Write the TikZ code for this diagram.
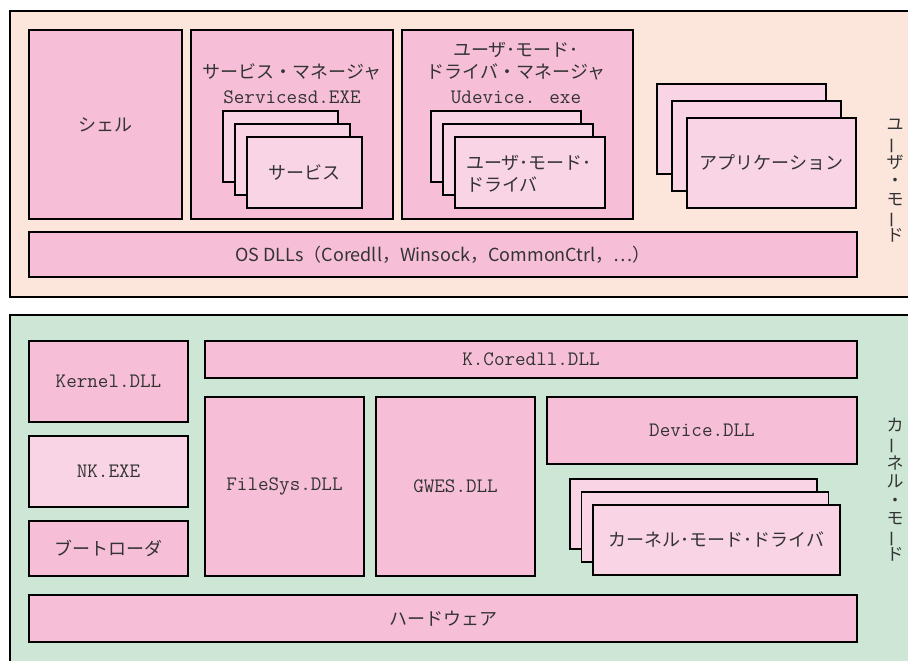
\documentclass[tikz,border=0pt]{standalone}
\usepackage{fontspec}
\usepackage{graphicx}
\setmainfont{Noto Sans CJK JP}
\usepackage{xcolor}
\definecolor{boxpink}{RGB}{246,191,215}
\definecolor{lightpink}{RGB}{249,212,229}
\definecolor{userbg}{RGB}{252,229,218}
\definecolor{kernelbg}{RGB}{205,230,214}
\definecolor{textgray}{RGB}{51,51,51}
\newcommand{\jp}{\fontsize{18}{22}\selectfont}
\newcommand{\dll}{\ttfamily\fontsize{20.5}{22}\selectfont}
\newcommand{\vbar}{\rotatebox[origin=c]{90}{ー}}

\begin{document}
\begin{tikzpicture}[x=1pt,y=-1pt,
  blk/.style={draw, line width=1.2pt, fill=boxpink, inner sep=0pt, text=textgray, font=\jp},
  sub/.style={blk, fill=lightpink},
  lbl/.style={inner sep=0pt, text=textgray, font=\jp},
  vlbl/.style={inner sep=0pt, text=textgray, align=center, font=\fontsize{17}{18.3}\selectfont}]
\clip (0,0) rectangle (908,661);

% user mode
\draw[line width=1.2pt, fill=userbg] (10,11) rectangle (930,297);
\node[blk, minimum width=153, minimum height=189] (shell) at (105.5,124.5) {シェル};
\node[blk, minimum width=202, minimum height=189] (svcmgr) at (292,124.5) {};
\node[lbl] (svcmgrname) at (292,72) {サービス・マネージャ};
\node[lbl, font=\dll] (svcmgrexe) at (292,97) {Servicesd.EXE};
\foreach \i in {0,1}
  \node[sub, minimum width=115, minimum height=71] (svc\i) at (280.5+12*\i,146.5+13*\i) {};
\node[sub, minimum width=115, minimum height=71] (svc2) at (304.5,172.5) {サービス};

\node[blk, minimum width=231, minimum height=189] (udmgr) at (517.5,124.5) {};
\node[lbl] (udmgrname1) at (516,50) {ユーザ･モード･};
\node[lbl] (udmgrname2) at (516,72) {ドライバ・マネージャ};
\node[lbl, font=\dll] (udmgrexe) at (516,97) {Udevice. exe};
\foreach \i in {0,1}
  \node[sub, minimum width=150, minimum height=71] (ud\i) at (506+12*\i,146.5+13*\i) {};
\node[sub, minimum width=150, minimum height=71] (ud2) at (530,172.5) {};
\node[lbl, anchor=west, align=left] (udtext) at (466,173.5) {ユーザ･モード･\\ドライバ};

\foreach \i in {0,1}
  \node[sub, minimum width=169, minimum height=90] (app\i) at (741.5+15*\i,129+17*\i) {};
\node[sub, minimum width=169, minimum height=90] (app2) at (771.5,163) {アプリケーション};

\node[blk, minimum width=828, minimum height=45] (osdll) at (443,254.5) {OS DLLs（Coredll，Winsock，CommonCtrl，…）};
\node[vlbl] (usrlbl) at (895,181) {ユ\\\vbar\\ザ\\・\\モ\\\vbar\\ド};

% kernel mode
\draw[line width=1.2pt, fill=kernelbg] (10,315) rectangle (930,690);
\node[blk, font=\dll, minimum width=159, minimum height=81] (kernel) at (108.5,381.5) {Kernel.DLL};
\node[sub, font=\dll, minimum width=159, minimum height=71] (nk) at (108.5,471.5) {NK.EXE};
\node[blk, minimum width=159, minimum height=55] (boot) at (108.5,548.5) {ブートローダ};
\node[blk, font=\dll, minimum width=652, minimum height=37] (kcoredll) at (531,359.5) {K.Coredll.DLL};
\node[blk, font=\dll, minimum width=159, minimum height=179] (filesys) at (284.5,486.5) {FileSys.DLL};
\node[blk, font=\dll, minimum width=159, minimum height=179] (gwes) at (455.5,486.5) {GWES.DLL};
\node[blk, font=\dll, minimum width=310, minimum height=67] (device) at (702,430.5) {Device.DLL};
\foreach \i in {0,1}
  \node[sub, minimum width=247, minimum height=70] (kmd\i) at (693.5+11.5*\i,514+13*\i) {};
\node[sub, minimum width=247, minimum height=70] (kmd2) at (716.5,540) {カーネル･モード･ドライバ};
\node[blk, minimum width=828, minimum height=47] (hw) at (443,618.5) {ハードウェア};
\node[vlbl] (krnlbl) at (895,490) {カ\\\vbar\\ネ\\ル\\・\\モ\\\vbar\\ド};
\end{tikzpicture}
\end{document}
